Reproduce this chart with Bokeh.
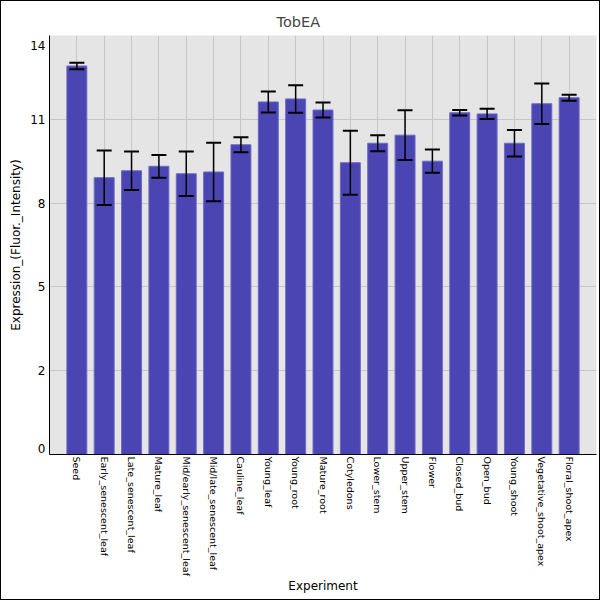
import math
from bokeh.plotting import figure
from bokeh.models import (ColumnDataSource, FactorRange, Range1d, FixedTicker, Whisker, TeeHead,
                          NumeralTickFormatter)
from bokeh.embed import file_html
from bokeh.resources import INLINE

categories = ["Seed", "Early_senescent_leaf", "Late_senescent_leaf", "Mature_leaf",
              "Mid/early_senescent_leaf", "Mid/late_senescent_leaf", "Cauline_leaf",
              "Young_leaf", "Young_root", "Mature_root", "Cotyledons", "Lower_stem",
              "Upper_stem", "Flower", "Closed_bud", "Open_bud", "Young_shoot",
              "Vegetative_shoot_apex", "Floral_shoot_apex"]
expression = [12.98, 9.25, 9.48, 9.63, 9.38, 9.44, 10.35, 11.78, 11.88, 11.51,
              9.75, 10.40, 10.67, 9.80, 11.42, 11.38, 10.40, 11.72, 11.92]
error = [0.11, 0.91, 0.64, 0.38, 0.74, 0.98, 0.25, 0.35, 0.46, 0.25,
         1.07, 0.27, 0.83, 0.39, 0.09, 0.17, 0.44, 0.68, 0.10]
grid_ticks = [0, 2.8, 5.6, 8.4, 11.2, 14]
tick_positions = [0.21, 2.8, 5.6, 8.4, 11.2, 13.68]
tick_labels = ["0", "2", "5", "8", "11", "14"]

upper = [m + e for m, e in zip(expression, error)]
lower = [m - e for m, e in zip(expression, error)]
source = ColumnDataSource(data=dict(cat=categories, val=expression, upper=upper, lower=lower))

FONT = "DejaVu Sans"

p = figure(width=598, height=598, output_backend="svg", toolbar_location=None,
           x_range=FactorRange(*categories, range_padding=0.5, range_padding_units="absolute"),
           y_range=Range1d(0, 14),
           min_border_left=48, min_border_right=3, min_border_top=34, min_border_bottom=145)

p.styles = {"margin": "1px", "outline": "1px solid black"}

p.vbar(x="cat", top="val", width=0.73, source=source,
       fill_color="#4a45b2", line_color="#6e6ac4", line_width=1)

w = Whisker(base="cat", upper="upper", lower="lower", source=source,
            line_color="black", line_width=1.5, level="annotation",
            upper_head=TeeHead(size=15, line_color="black", line_width=2),
            lower_head=TeeHead(size=15, line_color="black", line_width=2))
p.add_layout(w)

p.title.text = "TobEA"
p.title.align = "left"
p.title.offset = 227
p.title.standoff = 12
p.title.text_font = FONT
p.title.text_font_size = "14.5px"
p.title.text_font_style = "normal"

p.background_fill_color = "#e5e5e5"
p.border_fill_color = "white"
p.outline_line_color = None

p.xgrid.grid_line_color = "#c6c6c6"
p.ygrid.grid_line_color = "#c6c6c6"
p.ygrid.ticker = FixedTicker(ticks=grid_ticks)

p.yaxis.ticker = FixedTicker(ticks=tick_positions)
p.yaxis.formatter = NumeralTickFormatter(format="0")
p.yaxis.major_label_overrides = {t: l for t, l in zip(tick_positions, tick_labels)}
p.yaxis.axis_label = "Expression_(Fluor._Intensity)"
p.xaxis.axis_label = "Experiment"
p.xaxis.major_label_orientation = -math.pi / 2

for ax in (p.xaxis[0], p.yaxis[0]):
    ax.axis_line_color = "black"
    ax.axis_line_width = 1
    ax.major_tick_line_color = None
    ax.minor_tick_line_color = None
    ax.major_tick_out = 0
    ax.major_tick_in = 0
    ax.axis_label_text_font = FONT
    ax.axis_label_text_font_size = "12px"
    ax.axis_label_text_font_style = "normal"
    ax.major_label_text_font = FONT
    ax.major_label_text_color = "black"
    ax.axis_label_text_color = "black"

p.yaxis.major_label_text_font_size = "12px"
p.yaxis.major_label_standoff = 4
p.yaxis.axis_label_standoff = 4
p.xaxis.major_label_text_font_size = "9.5px"
p.xaxis.major_label_standoff = 2
p.xaxis.axis_label_standoff = 0

open("out.html", "w").write(file_html(p, INLINE))
